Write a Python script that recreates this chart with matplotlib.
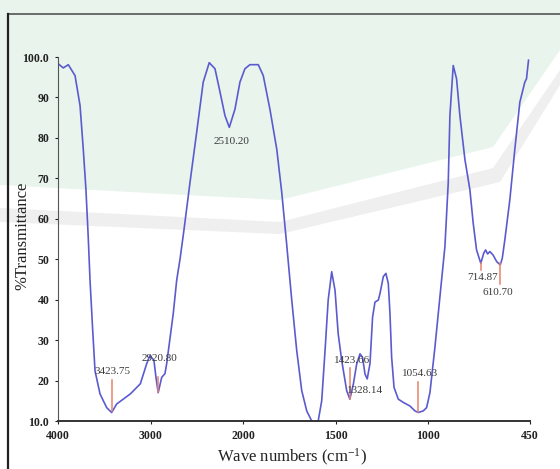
import matplotlib
matplotlib.use("Agg")
import matplotlib.pyplot as plt
from matplotlib.lines import Line2D
from matplotlib.patches import Polygon
import numpy as np

plt.rcParams['mathtext.default'] = 'regular'

# spectrum (wavenumber cm-1, %T)
wavenumber = [4000, 3946, 3892, 3819, 3765, 3730, 3701, 3676, 3657, 3628, 3603,
              3549, 3477, 3423, 3369, 3221, 3113, 3044, 3009, 2966, 2944, 2920,
              2882, 2847, 2828, 2757, 2720, 2684, 2641, 2576, 2504, 2433, 2368,
              2306, 2252, 2198, 2151, 2090, 2036, 1991, 1964, 1919, 1892, 1856,
              1819, 1792, 1766, 1738, 1711, 1684, 1657, 1630, 1612, 1595, 1576,
              1558, 1541, 1522, 1504, 1487, 1468, 1441, 1424, 1405, 1387, 1369,
              1355, 1342, 1330, 1315, 1301, 1288, 1270, 1261, 1243, 1229, 1216,
              1207, 1198, 1185, 1162, 1135, 1099, 1072, 1054, 1027, 1009, 991,
              964, 937, 910, 892, 883, 865, 847, 829, 802, 775, 757, 739, 716,
              700, 690, 679, 667, 649, 630, 611, 600, 586, 559, 532, 505, 478,
              469, 458]
transmittance = [98.3, 97.3, 98.1, 95.4, 88.0, 77.2, 67.2, 55.3, 44.8, 32.4, 22.4,
                 16.7, 13.3, 12.1, 14.2, 16.7, 19.2, 24.2, 26.2, 25.0, 20.8, 17.0,
                 20.8, 21.7, 24.2, 36.6, 44.8, 50.0, 57.3, 69.0, 81.4, 93.8, 98.6,
                 97.1, 91.4, 85.5, 82.6, 87.1, 93.8, 97.1, 98.1, 98.1, 95.4, 87.1,
                 77.2, 66.5, 54.0, 39.9, 27.4, 17.5, 12.5, 10.0, 9.8, 10.0, 15.0,
                 27.4, 39.9, 46.9, 42.3, 31.6, 25.0, 17.5, 15.4, 19.1, 24.1, 26.6,
                 25.7, 21.6, 20.4, 24.2, 35.7, 39.4, 39.9, 41.5, 45.7, 46.5, 44.0,
                 36.6, 25.8, 18.3, 15.4, 14.6, 13.7, 12.5, 12.1, 12.5, 13.3, 17.0,
                 28.2, 40.7, 53.1, 68.9, 85.5, 97.9, 94.6, 85.5, 74.7, 67.2, 58.9,
                 52.3, 49.0, 51.5, 52.3, 51.3, 51.9, 51.0, 49.4, 48.6, 50.2, 54.8,
                 64.7, 77.2, 88.8, 93.8, 94.6, 99.2]

# peak labels: text, marker wavenumber, marker bottom/top %T, text x, text y
peak_text = ["3423.75", "2920.80", "1423.66", "1054.63", "714.87", "610.70"]
peak_wn = [3423, 2920, 1423, 1054, 714.87, 610.7]
peak_lo = [12.4, 17.2, 15.4, 12.3, 47.4, 43.8]
peak_hi = [20.2, 21.0, 23.2, 19.6, 49.0, 49.0]
text_wn = [3418, 2910, 1412, 1045, 704, 625]
text_t = [22.3, 25.5, 25.0, 21.8, 45.4, 41.7]

xticks = [4000, 3000, 2000, 1500, 1000, 450]
yticks = [10, 20, 30, 40, 50, 60, 70, 80, 90, 100]
ytick_labels = ["10.0", "20", "30", "40", "50", "60", "70", "80", "90", "100.0"]


# scale doubles below 2000 cm-1
def fwd(w):
    w = np.asarray(w, dtype=float)
    return np.where(w >= 2000, w, 2 * w - 2000)


def inv(u):
    u = np.asarray(u, dtype=float)
    return np.where(u >= 2000, u, (u + 2000) / 2)


fig = plt.figure(figsize=(5.6, 4.69), dpi=100)
W, H = 560.0, 469.0

# watermark-ish background
fig.patches.append(Polygon([(0, 1), (1, 1), (1, 1 - 50 / H), (493 / W, 1 - 147 / H),
                            (280 / W, 1 - 200 / H), (0, 1 - 185 / H)],
                           closed=True, transform=fig.transFigure,
                           facecolor="#e8f4ec", edgecolor="none", zorder=-5))
fig.patches.append(Polygon([(0, 1 - 208 / H), (280 / W, 1 - 222 / H), (493 / W, 1 - 168 / H),
                            (1, 1 - 70 / H), (1, 1 - 85 / H), (500 / W, 1 - 182 / H),
                            (280 / W, 1 - 234 / H), (0, 1 - 222 / H)],
                           closed=True, transform=fig.transFigure,
                           facecolor="#efefef", edgecolor="none", zorder=-5))

# outer frame
fig.lines.append(Line2D([8 / W, 1], [1 - 14 / H, 1 - 14 / H], transform=fig.transFigure,
                        color="#555555", lw=1.2))
fig.lines.append(Line2D([8 / W, 8 / W], [0, 1 - 14 / H], transform=fig.transFigure,
                        color="#222222", lw=1.6))

ax = fig.add_axes([58.3 / W, 1 - 421 / H, (530 - 58.3) / W, (421 - 57) / H])
ax.set_zorder(2)
ax.patch.set_alpha(0)
ax.set_xscale("function", functions=(fwd, inv))
ax.plot(wavenumber, transmittance, color="#5b5bd0", lw=1.2)
ax.set_xlim(4000, 450)
ax.set_ylim(10, 100)

for i in range(len(peak_text)):
    ax.plot([peak_wn[i], peak_wn[i]], [peak_lo[i], peak_hi[i]], color="#e8826c", lw=1.1)
    ax.text(text_wn[i], text_t[i], peak_text[i], ha="center", va="center",
            fontsize=8, family="Liberation Serif", color="#3a3a3a")
ax.text(2122, 79.2, "2510.20", ha="center", va="center", fontsize=8,
        family="Liberation Serif", color="#3a3a3a")
ax.text(1440, 17.6, "1328.14", ha="left", va="center", fontsize=8,
        family="Liberation Serif", color="#3a3a3a")

ax.spines["top"].set_visible(False)
ax.spines["right"].set_visible(False)
ax.spines["left"].set_color("#555555")
ax.spines["bottom"].set_color("#333333")
ax.spines["bottom"].set_linewidth(1.4)

ax.set_xticks(xticks)
ax.set_xticklabels([str(t) for t in xticks])
ax.set_yticks(yticks)
ax.set_yticklabels(ytick_labels)
ax.minorticks_off()
ax.tick_params(direction="out", length=2.5, width=0.8, pad=4, colors="#222222")
for lab in ax.get_xticklabels() + ax.get_yticklabels():
    lab.set_family("Liberation Serif")
    lab.set_weight("bold")
    lab.set_fontsize(8.5)

ax.set_xlabel("Wave numbers (cm$^{-1}$)", family="Liberation Serif", fontsize=12,
              color="#222222")
ax.xaxis.set_label_coords(0.495, -0.072)
ax.set_ylabel("%Transmittance", family="Liberation Serif", fontsize=12,
              color="#222222")
ax.yaxis.set_label_coords(-0.06, 0.51)

fig.savefig("out.png", dpi=100)
